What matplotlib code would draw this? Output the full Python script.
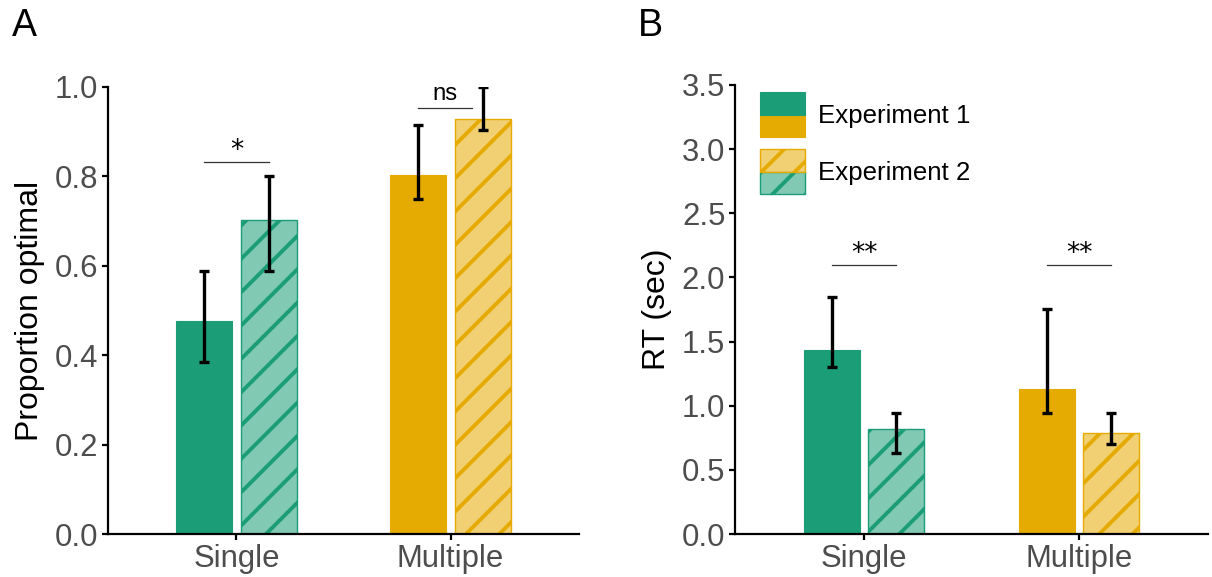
import numpy as np
import matplotlib
matplotlib.use("Agg")
import matplotlib.pyplot as plt
from matplotlib.patches import Rectangle
from matplotlib.legend_handler import HandlerBase

# --- data ---
conditions = ["Single", "Multiple"]
experiments = ["Experiment 1", "Experiment 2"]

# panel A: proportion optimal
prop_mean = [[0.477, 0.803], [0.702, 0.928]]          # [exp][condition]
prop_lo = [[0.385, 0.749], [0.588, 0.904]]
prop_hi = [[0.588, 0.915], [0.801, 1.000]]
prop_sig = [("*", 0.832, 0.85, 1.15), ("ns", 0.952, 1.85, 2.10)]

# panel B: reaction time
rt_mean = [[1.434, 1.13], [0.818, 0.79]]
rt_lo = [[1.304, 0.943], [0.631, 0.70]]
rt_hi = [[1.850, 1.754], [0.943, 0.943]]
rt_sig = [("**", 2.097, 0.85, 1.15), ("**", 2.097, 1.85, 2.15)]

green = "#1b9e77"
orange = "#e6ab02"
cond_colors = [green, orange]

plt.rcParams["font.family"] = ["Liberation Sans", "DejaVu Sans"]
plt.rcParams["hatch.linewidth"] = 1.4

DPI = 200
fig = plt.figure(figsize=(1212 / DPI, 577 / DPI), dpi=DPI)
axA = fig.add_axes([108 / 1212, 1 - 534 / 577, (579 - 108) / 1212, (534 - 87) / 577])
axB = fig.add_axes([735 / 1212, 1 - 534 / 577, (1208 - 735) / 1212, (534 - 85) / 577])

x = np.arange(1, len(conditions) + 1)
width = 0.261
offset = 0.150


def draw_panel(ax, mean, lo, hi, sig, ylim, yticks, ylabel):
    for e in range(2):
        xs = x + (offset if e else -offset)
        for i in range(len(conditions)):
            c = cond_colors[i]
            if e == 0:
                ax.bar(xs[i], mean[e][i], width, color=c, edgecolor=c, linewidth=0.4)
            else:
                ax.bar(xs[i], mean[e][i], width, facecolor=matplotlib.colors.to_rgba(c, 0.55),
                       edgecolor=c, linewidth=0.5, hatch="//")
        m = np.array(mean[e])
        yerr = np.array([m - np.array(lo[e]), np.array(hi[e]) - m])
        ax.errorbar(xs, m, yerr=yerr, fmt="none", ecolor="black", elinewidth=1.2,
                    capsize=1.9, capthick=1.2, zorder=5)
    for txt, y, x0, x1 in sig:
        ax.plot([x0, x1], [y, y], color="#333333", lw=0.45)
        if "*" in txt:
            ax.text((x0 + x1) / 2, y - ylim[1] * 0.004, txt, ha="center", va="bottom",
                    fontsize=9.5, color="black", family="DejaVu Sans")
        else:
            ax.text((x0 + x1) / 2, y + ylim[1] * 0.008, txt, ha="center", va="bottom",
                    fontsize=8.6, color="black")
    ax.set_xlim(0.4, 2.6)
    ax.set_ylim(*ylim)
    ax.set_yticks(yticks)
    ax.set_yticklabels([f"{t:.1f}" for t in yticks])
    ax.set_xticks(x)
    ax.set_xticklabels(conditions)
    ax.set_ylabel(ylabel, fontsize=11.5, labelpad=3.5)
    for s in ["top", "right"]:
        ax.spines[s].set_visible(False)
    for s in ["left", "bottom"]:
        ax.spines[s].set_linewidth(0.8)
    ax.tick_params(labelsize=11.2, labelcolor="#4d4d4d", length=2, width=0.8, pad=1.5)


draw_panel(axA, prop_mean, prop_lo, prop_hi, prop_sig, (0, 1.0),
           np.arange(0, 1.01, 0.2), "Proportion optimal")
draw_panel(axB, rt_mean, rt_lo, rt_hi, rt_sig, (0, 3.5),
           np.arange(0, 3.51, 0.5), "RT (sec)")


class TwoTone(HandlerBase):
    def __init__(self, top, bottom, hatched):
        super().__init__()
        self.top, self.bottom, self.hatched = top, bottom, hatched

    def create_artists(self, legend, orig_handle, xdescent, ydescent, width, height,
                       fontsize, trans):
        half = height / 2
        arts = []
        for col, y0 in [(self.bottom, -ydescent), (self.top, -ydescent + half)]:
            if self.hatched:
                r = Rectangle((-xdescent, y0), width, half,
                              facecolor=matplotlib.colors.to_rgba(col, 0.55),
                              edgecolor=col, lw=0.5, hatch="//", transform=trans)
            else:
                r = Rectangle((-xdescent, y0), width, half, facecolor=col,
                              edgecolor=col, lw=0.4, transform=trans)
            arts.append(r)
        return arts


h1 = Rectangle((0, 0), 1, 1)
h2 = Rectangle((0, 0), 1, 1)
axB.legend([h1, h2], experiments,
           handler_map={h1: TwoTone(green, orange, False), h2: TwoTone(orange, green, True)},
           loc="upper left", bbox_to_anchor=(760 / 1212, 1 - 92 / 577),
           bbox_transform=fig.transFigure, frameon=False, fontsize=9.3,
           handlelength=1.74, handleheight=2.31, labelspacing=0.47,
           handletextpad=0.5, borderpad=0, borderaxespad=0)

fig.text(12 / 1212, 1 - 8 / 577, "A", fontsize=13.5, va="top", ha="left")
fig.text(638 / 1212, 1 - 8 / 577, "B", fontsize=13.5, va="top", ha="left")

fig.savefig("out.png", dpi=DPI)
